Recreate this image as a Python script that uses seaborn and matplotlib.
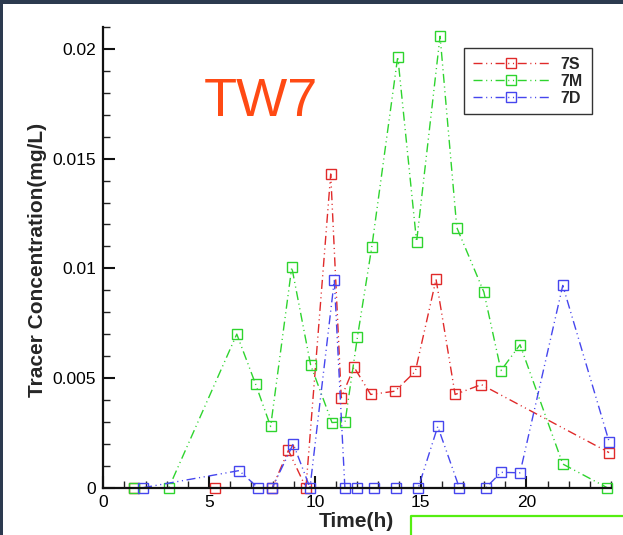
import matplotlib
matplotlib.use("Agg")
import matplotlib.pyplot as plt
from matplotlib.ticker import MultipleLocator
from matplotlib.lines import Line2D
from matplotlib.patches import Rectangle
import seaborn as sns
import pandas as pd

# Tracer breakthrough at well TW7, three sampling depths
time_7s = [1.45, 5.28, 7.99, 8.75, 9.58, 10.75, 11.25, 11.85, 12.64, 13.79,
           14.75, 15.73, 16.63, 17.87, 23.91]
conc_7s = [0.0, 0.0, 0.0, 0.0017, 0.0, 0.0143, 0.0041, 0.0055, 0.00425, 0.0044,
           0.0053, 0.0095, 0.00425, 0.0047, 0.0016]

time_7m = [1.47, 3.10, 6.31, 7.20, 7.91, 8.91, 9.80, 10.81, 11.43, 12.01,
           12.69, 13.92, 14.81, 15.92, 16.71, 17.99, 18.80, 19.70, 21.72, 23.82]
conc_7m = [0.0, 0.0, 0.0070, 0.00472, 0.00279, 0.01005, 0.0056, 0.00297, 0.0030, 0.00685,
           0.01096, 0.01965, 0.01121, 0.02058, 0.01186, 0.00892, 0.00534, 0.00652, 0.00108, 0.0]

time_7d = [1.88, 6.42, 7.31, 7.99, 8.98, 9.77, 10.92, 11.42, 12.01, 12.80,
           13.82, 14.89, 15.81, 16.83, 18.09, 18.80, 19.70, 21.72, 23.91]
conc_7d = [0.0, 0.00078, 0.0, 0.0, 0.0020, 0.0, 0.00945, 0.0, 0.0, 0.0,
           0.0, 0.0, 0.00279, 0.0, 0.0, 0.0007, 0.00068, 0.00922, 0.0021]

series_names = ["7S", "7M", "7D"]
series_colors = ["#e02a2a", "#2ed42e", "#4646ee"]

x_ticks = [0, 5, 10, 15, 20]
x_tick_labels = ["0", "5", "10", "15", "20"]
y_ticks = [0, 0.005, 0.01, 0.015, 0.02]
y_tick_labels = ["0", "0.005", "0.01", "0.015", "0.02"]

frames = []
for name, t, c in [("7S", time_7s, conc_7s), ("7M", time_7m, conc_7m), ("7D", time_7d, conc_7d)]:
    frames.append(pd.DataFrame({"time": t, "conc": c, "well": name}))
data = pd.concat(frames, ignore_index=True)

sns.set_style("ticks")
plt.rcParams["font.family"] = ["Liberation Sans", "DejaVu Sans"]

W, H = 623, 535
fig = plt.figure(figsize=(W / 100, H / 100), dpi=100, facecolor="white")
ax_left, ax_right, ax_bottom, ax_top = 103.3, 611.0, 487.7, 27.0
ax = fig.add_axes([ax_left / W, 1 - ax_bottom / H,
                   (ax_right - ax_left) / W, (ax_bottom - ax_top) / H])
ax.set_facecolor("white")

dash_dot_dot = (0, (6.5, 2.6, 0.8, 2.6, 0.8, 2.6))
for name, color in zip(series_names, series_colors):
    sub = data[data["well"] == name]
    sns.lineplot(data=sub, x="time", y="conc", ax=ax, color=color,
                 estimator=None, sort=False, label=name,
                 linestyle=dash_dot_dot, linewidth=1.0,
                 marker="s", markersize=7, markerfacecolor="none",
                 markeredgecolor=color, markeredgewidth=1.0,
                 clip_on=False, legend=False)

ax.set_xlim(0, 24.0)
ax.set_ylim(0, 0.021)
ax.set_xticks(x_ticks)
ax.set_xticklabels(x_tick_labels)
ax.set_yticks(y_ticks)
ax.set_yticklabels(y_tick_labels)
ax.xaxis.set_minor_locator(MultipleLocator(1))
ax.yaxis.set_minor_locator(MultipleLocator(0.001))

for side in ("top", "right"):
    ax.spines[side].set_visible(False)
for side in ("left", "bottom"):
    ax.spines[side].set_linewidth(1.6)
    ax.spines[side].set_color("#111111")

ax.tick_params(which="major", direction="in", length=8.5, width=1.5,
               color="#111111", labelsize=12.5, labelcolor="black")
ax.tick_params(axis="x", which="major", pad=5)
ax.tick_params(axis="y", which="major", pad=5)
ax.tick_params(which="minor", direction="in", length=5, width=1.0, color="#222222")

ax.set_xlabel("Time(h)", fontsize=15, fontweight="bold")
ax.set_ylabel("Tracer Concentration(mg/L)", fontsize=15, fontweight="bold")
ax.xaxis.set_label_coords((356 - ax_left) / (ax_right - ax_left), -0.052)
ax.yaxis.set_label_coords((47 - ax_left) / (ax_right - ax_left), 0.494)

fig.text(204 / W, 1 - 116 / H, "TW7", fontsize=39, color="#ff4a14",
         ha="left", va="baseline")

leg = ax.legend(loc="upper left", bbox_to_anchor=(464 / W, 1 - 48 / H),
                bbox_transform=fig.transFigure, borderaxespad=0,
                prop={"size": 11.5, "weight": "bold"},
                handlelength=4.8, handletextpad=0.7, labelspacing=0.12,
                borderpad=0.55, fancybox=False, framealpha=1, numpoints=1)
leg.get_frame().set_edgecolor("#333333")
leg.get_frame().set_linewidth(1.0)

# page border strips and frame corner
border = "#2c3a4f"
fig.add_artist(Rectangle((0, 1 - 4 / H), 1, 4 / H, transform=fig.transFigure,
                         facecolor=border, edgecolor="none"))
fig.add_artist(Rectangle((0, 0), 3 / W, 1, transform=fig.transFigure,
                         facecolor=border, edgecolor="none"))
fig.add_artist(Line2D([411 / W, 411 / W, 1], [0, 1 - 516 / H, 1 - 516 / H],
                      transform=fig.transFigure, color="#55ee11", linewidth=1.6))

fig.savefig("out.png", dpi=100, facecolor="white")
